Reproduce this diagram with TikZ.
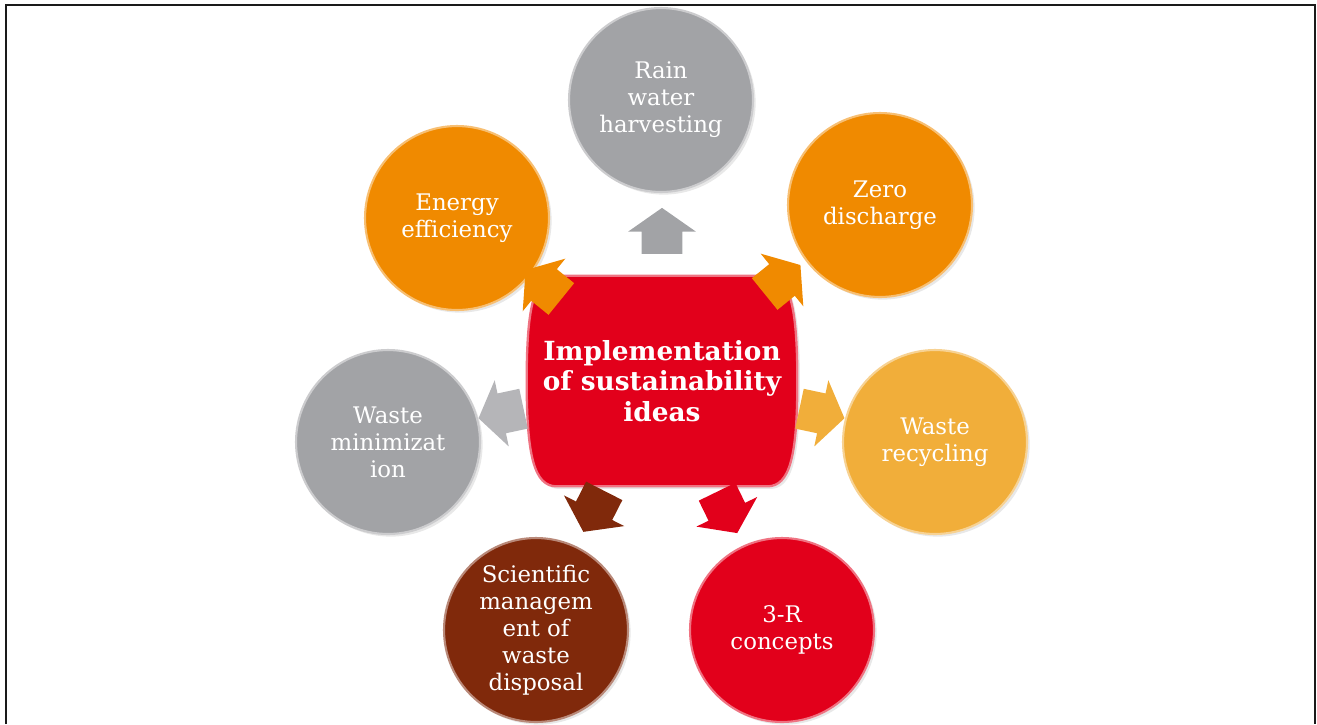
\documentclass[tikz,border=0pt]{standalone}
\usepackage{fontspec}
\setmainfont{DejaVu Serif}
\usetikzlibrary{shapes.arrows,shadows,backgrounds}
\definecolor{greyc}{HTML}{A2A3A6}
\definecolor{orangec}{HTML}{F08A00}
\definecolor{goldc}{HTML}{F1AE3A}
\definecolor{brownc}{HTML}{80290B}
\definecolor{redc}{HTML}{E2001B}
\definecolor{frame}{HTML}{1A1A1A}

\begin{document}
\begin{tikzpicture}[x=0.02cm,y=-0.02cm,
  bubble/.style={circle,minimum size=3.68cm,inner sep=0pt,text=white,align=center,
    font=\fontsize{13}{15.3}\selectfont,fill=#1,draw=white!45!#1,line width=1.2pt,
    drop shadow={opacity=0.18,shadow xshift=1.5pt,shadow yshift=-1.5pt}},
  blockarrow/.style={single arrow,minimum height=0.92cm,inner xsep=0pt,inner ysep=0.4cm,
    single arrow head extend=0.27cm,single arrow tip angle=110,fill=#1}]
\useasboundingbox (0,0) rectangle (1317,724);
\draw[frame,line width=1.2pt] (6,724) -- (6,5) -- (1315,5) -- (1315,724);

% centre
\node[minimum width=5.4cm,minimum height=4.2cm,text=white,align=center,
  font=\fontsize{15}{17.5}\selectfont\bfseries] (hub) at (662,381)
  {Implementation\\of sustainability\\ideas};
\begin{scope}[on background layer]
\fill[redc,draw=redc!55!white,line width=1.3pt,
  drop shadow={opacity=0.18,shadow xshift=1.5pt,shadow yshift=-1.5pt}]
  ([xshift=-0.6cm]hub.north east) .. controls ([xshift=-0.15cm]hub.north east) and ([yshift=1.5cm]hub.east) .. (hub.east)
  .. controls ([yshift=-1.5cm]hub.east) and ([xshift=-0.15cm]hub.south east) .. ([xshift=-0.6cm]hub.south east)
  -- ([xshift=0.6cm]hub.south west)
  .. controls ([xshift=0.15cm]hub.south west) and ([yshift=-1.5cm]hub.west) .. (hub.west)
  .. controls ([yshift=1.5cm]hub.west) and ([xshift=0.15cm]hub.north west) .. ([xshift=0.6cm]hub.north west)
  -- cycle;
\end{scope}

% ideas
\node[bubble=greyc] (rain) at (661,100) {Rain\\water\\harvesting};
\node[bubble=orangec] (zero) at (880,205) {Zero\\discharge};
\node[bubble=orangec] (energy) at (457,218) {Energy\\efficiency};
\node[bubble=greyc] (minim) at (388,442) {Waste\\minimizat\\ion};
\node[bubble=goldc] (recyc) at (935,442) {Waste\\recycling};
\node[bubble=brownc] (scimgmt) at (536,630) {Scientific\\managem\\ent of\\waste\\disposal};
\node[bubble=redc] (threer) at (782,630) {3-R\\concepts};

% arrows out of the centre
\foreach \nm/\px/\py/\ang/\col in {aup/662/238/90/greyc,ane/777/284/39/orangec,
  anw/549/289/141/orangec,ae/815/412/-12/goldc,aw/508/412/192/greyc!80!white,
  asw/597/505/243/brownc,ase/724/506/-64/redc}
  \node[blockarrow=\col,rotate=\ang] (\nm) at (\px,\py) {};
\end{tikzpicture}
\end{document}
